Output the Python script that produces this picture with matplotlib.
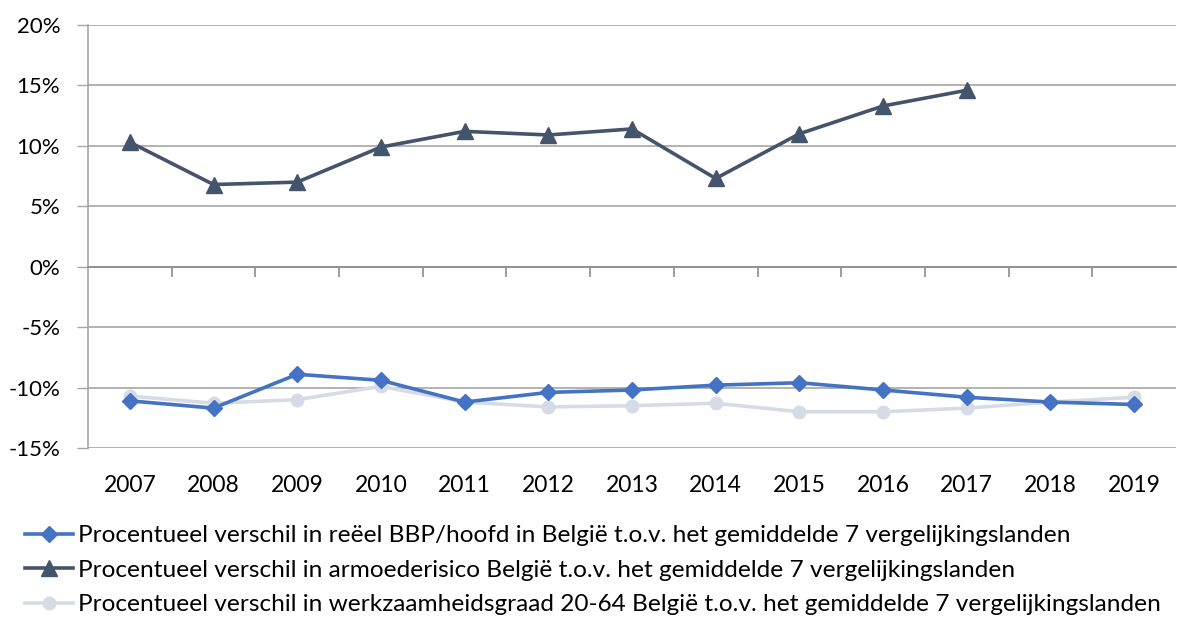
import matplotlib
matplotlib.use("Agg")
import matplotlib.pyplot as plt
from matplotlib.transforms import blended_transform_factory
from matplotlib.lines import Line2D

years = ["2007", "2008", "2009", "2010", "2011", "2012", "2013",
         "2014", "2015", "2016", "2017", "2018", "2019"]
bbp = [-11.1, -11.7, -8.9, -9.4, -11.2, -10.4, -10.2, -9.8, -9.6, -10.2, -10.8, -11.2, -11.4]
armoede = [10.3, 6.8, 7.0, 9.9, 11.2, 10.9, 11.4, 7.3, 11.0, 13.3, 14.6, None, None]
werk = [-10.7, -11.3, -11.0, -9.9, -11.2, -11.6, -11.5, -11.3, -12.0, -12.0, -11.7, -11.2, -10.8]

labels = [
    "Procentueel verschil in reëel BBP/hoofd in België t.o.v. het gemiddelde 7 vergelijkingslanden",
    "Procentueel verschil in armoederisico België t.o.v. het gemiddelde 7 vergelijkingslanden",
    "Procentueel verschil in werkzaamheidsgraad 20-64 België t.o.v. het gemiddelde 7 vergelijkingslanden",
]
yticks = [-15, -10, -5, 0, 5, 10, 15, 20]

plt.rcParams['font.family'] = ['Lato', 'DejaVu Sans']

W, H = 1177, 617
fig = plt.figure(figsize=(W / 100, H / 100), dpi=100)
left, right, top, bottom = 88, 1176, 25, 448
ax = fig.add_axes([left / W, 1 - bottom / H, (right - left) / W, (bottom - top) / H])

x = list(range(len(years)))
blue = "#4472C4"
dark = "#44546A"
light = "#D6DCE5"

ax.plot(x, werk, color=light, lw=2.6, marker="o", ms=9, zorder=3, label=labels[2])
ax.plot(x, bbp, color=blue, lw=2.6, marker="D", ms=8.5, zorder=4, label=labels[0])
xa = [i for i, v in zip(x, armoede) if v is not None]
ya = [v for v in armoede if v is not None]
ax.plot(xa, ya, color=dark, lw=2.6, marker="^", ms=12, zorder=4, label=labels[1])

ax.set_xlim(-0.5, len(years) - 0.5)
ax.set_ylim(-15, 20)
ax.set_yticks(yticks)
ax.set_yticklabels([f"{t}%" for t in yticks], fontsize=16)
ax.tick_params(axis="y", length=8, color="#A6A6A6", pad=12, width=1)
ax.yaxis.grid(True, color="#A6A6A6", lw=1.2)
ax.set_axisbelow(True)

for s in ["top", "right"]:
    ax.spines[s].set_visible(False)
ax.spines["left"].set_color("#A6A6A6")
ax.spines["left"].set_linewidth(1.2)
ax.spines["bottom"].set_position(("data", 0))
ax.spines["bottom"].set_color("#8C8C8C")
ax.spines["bottom"].set_linewidth(1.2)
ax.set_xticks([i + 0.5 for i in range(len(years) - 1)])
ax.set_xticklabels([])
ax.tick_params(axis="x", length=7, color="#8C8C8C", width=1.2, direction="out")

tr = blended_transform_factory(ax.transData, ax.transAxes)
for i, yr in enumerate(years):
    ax.text(i, -0.088, yr, transform=tr, ha="center", va="center", fontsize=16.5)

handles = [
    Line2D([], [], color=blue, lw=2.6, marker="D", ms=8.5),
    Line2D([], [], color=dark, lw=2.6, marker="^", ms=12),
    Line2D([], [], color=light, lw=2.6, marker="o", ms=9),
]
fig.legend(handles, labels, loc="upper left", bbox_to_anchor=(25 / W, 1 - 525 / H),
           frameon=False, fontsize=17.6, handlelength=1.95, handletextpad=0.2,
           labelspacing=0.55, borderaxespad=0, borderpad=0)

fig.savefig("out.png", dpi=100)
